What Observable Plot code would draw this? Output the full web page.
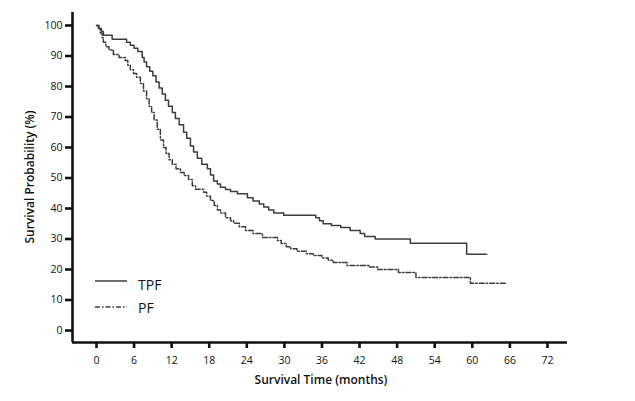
<!DOCTYPE html>
<html>
<head>
<meta charset="utf-8">
<script src="https://cdn.jsdelivr.net/npm/d3@7"></script>
<script src="https://cdn.jsdelivr.net/npm/@observablehq/plot@0.6"></script>
<style>
  html, body { margin: 0; padding: 0; background: #fff; }
  #chart { width: 635px; height: 401px; }
</style>
</head>
<body>
<div id="chart"></div>
<script>
// Kaplan–Meier step data (months, survival %)
const tpfTime = [0, 0.4, 0.8, 1.1, 2.5, 4.8, 5.4, 6.0, 6.6, 7.3, 7.6, 8.0, 8.5, 9.0, 9.5, 10.0, 10.5, 11.0, 11.5, 12.1, 12.6, 13.2, 13.9, 14.4, 15.0, 15.5, 16.1, 16.8, 17.7, 18.2, 18.7, 19.3, 19.8, 20.6, 21.4, 22.5, 24.1, 25.0, 26.0, 26.7, 27.5, 28.3, 29.9, 35.0, 35.6, 36.2, 37.5, 39.0, 40.5, 42.1, 42.8, 44.5, 50.1, 59.1, 62.3];
const tpfSurv = [100, 99, 98, 96.8, 95.5, 94.5, 93.5, 92.5, 91.5, 89.5, 88, 86.5, 85, 83.5, 81.5, 79.5, 77.5, 75.5, 73.5, 71.5, 69.5, 67.5, 65, 63, 60.5, 58.5, 56.5, 54.5, 53, 51, 49, 48, 47, 46.2, 45.6, 44.8, 43.5, 42.5, 41.5, 40.5, 39.5, 38.5, 37.8, 37, 36, 35, 34.4, 33.8, 32.8, 31.8, 30.8, 30, 28.6, 25, 25];

const pfTime = [0, 0.3, 0.6, 0.9, 1.1, 1.5, 2.0, 2.7, 3.6, 4.6, 5.0, 5.4, 5.9, 6.4, 7.0, 7.5, 8.0, 8.4, 8.8, 9.2, 9.7, 10.2, 10.7, 11.1, 11.6, 12.1, 12.7, 13.4, 14.0, 14.7, 15.3, 15.8, 17.1, 17.6, 18.2, 18.8, 19.3, 19.8, 20.6, 21.4, 21.9, 22.8, 23.8, 25.0, 26.5, 28.9, 29.5, 30.3, 31.0, 32.0, 33.5, 34.6, 36.0, 37.0, 37.8, 40.0, 43.5, 44.9, 48.2, 51.0, 59.7, 65.3];
const pfSurv = [100, 99, 97.5, 96, 94.5, 93, 92, 90.5, 89.5, 88.5, 87, 85.5, 84.3, 83, 81, 78.5, 76, 73.5, 71.5, 69, 66, 62.5, 60, 58, 56, 54.5, 53, 51.8, 50.8, 49.5, 47.5, 46.3, 45.3, 44, 42.6, 41, 39.5, 38.5, 37, 36, 35.2, 34, 32.8, 31.8, 30.5, 29.5, 28.5, 27.5, 26.8, 26, 25.2, 24.6, 23.8, 23, 22.3, 21.3, 20.8, 20, 19, 17.4, 15.5, 15.5];

const xTicks = [0, 6, 12, 18, 24, 30, 36, 42, 48, 54, 60, 66, 72];
const yTicks = [0, 10, 20, 30, 40, 50, 60, 70, 80, 90, 100];
const groups = ["TPF", "PF"];

const tpf = tpfTime.map((t, i) => ({t, s: tpfSurv[i]}));
const pf = pfTime.map((t, i) => ({t, s: pfSurv[i]}));

const xDomain = [-3.83, 75.2];
const yDomain = [-3.93, 104.26];
const font = "'Open Sans', 'DejaVu Sans', sans-serif";
const lineColor = "#3c3c3c";
const pfDash = "5,2,1.5,2";

const plot = Plot.plot({
  width: 635,
  height: 401,
  marginLeft: 72,
  marginRight: 68,
  marginTop: 12,
  marginBottom: 59,
  style: {fontFamily: font, background: "#fff", color: "#111"},
  x: {domain: xDomain},
  y: {domain: yDomain},
  marks: [
    Plot.axisX({ticks: xTicks, tickSize: 6, tickPadding: 8, strokeWidth: 2.6, stroke: "#111", fontSize: 10.5, fontWeight: 500, label: null, tickFormat: d => d}),
    Plot.axisY({ticks: yTicks, tickSize: 7, tickPadding: 3, strokeWidth: 2.6, stroke: "#111", fontSize: 10.5, fontWeight: 500, label: null, tickFormat: d => d}),
    Plot.ruleX([xDomain[0]], {stroke: "#111", strokeWidth: 2.6}),
    Plot.ruleY([yDomain[0]], {stroke: "#111", strokeWidth: 2.6}),
    Plot.line(tpf, {x: "t", y: "s", curve: "step-after", stroke: lineColor, strokeWidth: 1.5}),
    Plot.line(pf, {x: "t", y: "s", curve: "step-after", stroke: lineColor, strokeWidth: 1.5, strokeDasharray: pfDash})
  ]
});

const svg = d3.select(plot);
// axis titles
svg.append("text")
  .attr("x", 321).attr("y", 384)
  .attr("text-anchor", "middle")
  .attr("font-family", font).attr("font-size", 12).attr("font-weight", 600)
  .attr("fill", "#111")
  .text("Survival Time (months)");
svg.append("text")
  .attr("transform", "translate(34,177) rotate(-90)")
  .attr("text-anchor", "middle")
  .attr("font-family", font).attr("font-size", 12).attr("font-weight", 600)
  .attr("fill", "#111")
  .text("Survival Probability (%)");

// legend
const leg = svg.append("g");
[[groups[0], null, 281, 290], [groups[1], pfDash, 307, 313]].forEach(([name, dash, y, base]) => {
  leg.append("line").attr("x1", 95).attr("x2", 127).attr("y1", y).attr("y2", y)
    .attr("stroke", lineColor).attr("stroke-width", 1.5)
    .attr("stroke-dasharray", dash);
  leg.append("text").attr("x", 138).attr("y", base)
    .attr("text-anchor", "start")
    .attr("font-family", font).attr("font-size", 14).attr("font-weight", 500)
    .attr("fill", "#111")
    .text(name);
});

document.getElementById("chart").appendChild(plot);
</script>
</body>
</html>
